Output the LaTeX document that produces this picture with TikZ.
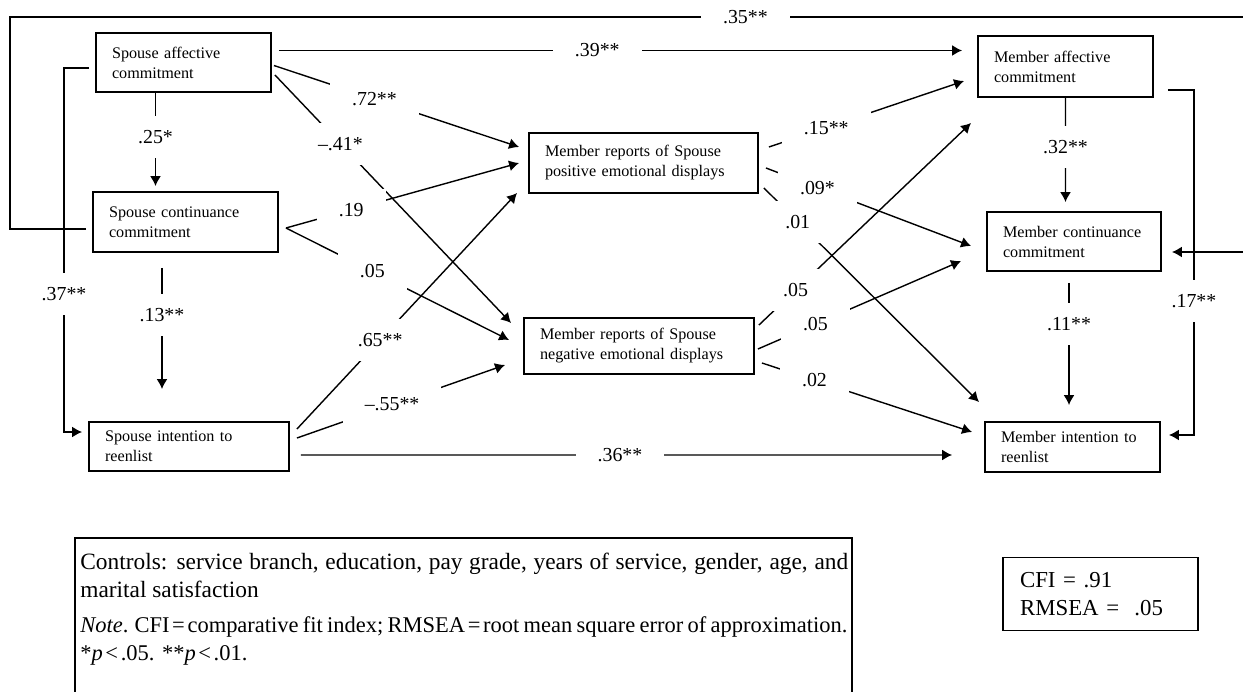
\documentclass[tikz,border=0pt]{standalone}
\usepackage{fontspec}
\setmainfont{Liberation Serif}
\usetikzlibrary{arrows.meta}
\tikzset{
  var/.style={draw, line width=1.1pt, inner xsep=0.32cm, inner ysep=2pt, align=left,
    font=\fontsize{9.2}{11.4}\selectfont},
  arr/.style={-{Latex[length=0.2cm,width=0.22cm]}, line width=0.8pt},
  lbl/.style={fill=white, inner xsep=0.44cm, inner ysep=1pt, minimum height=0.84cm,
    font=\fontsize{11.3}{13}\selectfont},
  note/.style={align=justify, text width=15.36cm, inner sep=0.06cm, font=\fontsize{12.8}{15.8}\selectfont}
}
\newcommand{\tighteq}{\kern1.5pt=\kern1.5pt}
\newcommand{\tightlt}{\kern1.5pt<\kern1.5pt}
\begin{document}
\begin{tikzpicture}[x=0.02cm, y=-0.02cm]
\useasboundingbox (0,0) rectangle (1243,692);

% spouse variables
\node[var, text width=2.86cm, minimum height=1.18cm] (SAC) at (183.5,62.5) {Spouse affective\\commitment};
\node[var, text width=3.06cm, minimum height=1.2cm] (SCC) at (185.5,222) {Spouse continuance\\commitment};
\node[var, text width=3.36cm, minimum height=0.98cm] (SIR) at (189,446.5) {Spouse intention to\\reenlist};

% mediators
\node[var, text width=3.94cm, minimum height=1.2cm] (MRP) at (643.5,163) {Member reports of Spouse\\positive emotional displays};
\node[var, text width=3.96cm, minimum height=1.12cm] (MRN) at (639,346) {Member reports of Spouse\\negative emotional displays};

% member variables
\node[var, text width=2.86cm, minimum height=1.22cm] (MAC) at (1065.5,66.5) {Member affective\\commitment};
\node[var, text width=2.84cm, minimum height=1.18cm] (MCC) at (1074,241.5) {Member continuance\\commitment};
\node[var, text width=2.86cm, minimum height=1.0cm] (MIR) at (1072.5,447) {Member intention to\\reenlist};

% paths among spouse variables
\draw[arr] ([shift={(-28,0)}]SAC.south) -- node[lbl,pos=.47]{.25*} ([shift={(-30,-5)}]SCC.north);
\draw[arr] ([shift={(-23.5,15)}]SCC.south) -- node[lbl,pos=.39]{.13**} ([shift={(-27,-32)}]SIR.north);
\draw[arr] ([shift={(-6,5.5)}]SAC.west) -- ++(-25,0) |- node[lbl,pos=.31]{.37**} ([shift={(-6,-14.5)}]SIR.west);
\draw[arr] ([shift={(-6,7)}]SCC.west) -- ++(-76,0) -- ++(0,-212)
  -- node[lbl,pos=.579]{.35**} ++(1270,0) |- ([shift={(10,10.5)}]MCC.east);
\draw[arr] ([shift={(7,-12)}]SAC.east) -- node[lbl,pos=.466]{.39**} ([shift={(-15,-16)}]MAC.west);
\draw[arr] ([shift={(11,8.5)}]SIR.east) -- node[lbl,pos=.49]{.36**} ([shift={(-32,8)}]MIR.west);

% spouse to mediators
\draw[arr] ([shift={(2,3)}]SAC.east) -- node[lbl,pos=.41]{.72**} ([shift={(-9,-16)}]MRP.west);
\draw[arr] ([shift={(3,12.5)}]SAC.east) -- node[lbl,pos=.277]{--.41*} ([shift={(-12,-23)}]MRN.west);
\draw[arr] ([shift={(7,6)}]SCC.east) -- node[lbl,pos=.28]{.19} ([shift={(-9,0)}]MRP.west);
\draw[arr] ([shift={(7,6)}]SCC.east) -- node[lbl,pos=.387]{.05} ([shift={(-14,-6)}]MRN.west);
\draw[arr] ([shift={(7,-17.5)}]SIR.east) -- node[lbl,pos=.378]{.65**} ([shift={(-11,-1)}]MRP.south west);
\draw[arr] ([shift={(7,-8.5)}]SIR.east) -- node[lbl,pos=.457]{--.55**} ([shift={(-18,-10)}]MRN.south west);

% mediators to member
\draw[arr] ([shift={(10,-16)}]MRP.east) -- node[lbl,pos=.294]{.15**} ([shift={(-13,14.5)}]MAC.west);
\draw[arr] ([shift={(7,5)}]MRP.east) -- node[lbl,pos=.251]{.09*} ([shift={(-15,4.5)}]MCC.west);
\draw[arr] ([shift={(5,25)}]MRP.east) -- node[lbl,pos=.157]{.01} ([shift={(-5,-19)}]MIR.north west);
\draw[arr] ([shift={(4,-21)}]MRN.east) -- node[lbl,pos=.173]{.05} ([shift={(-6,25)}]MAC.south west);
\draw[arr] ([shift={(3,3)}]MRN.east) -- node[lbl,pos=.283]{.05} ([shift={(-25,19.5)}]MCC.west);
\draw[arr] ([shift={(7,17)}]MRN.east) -- node[lbl,pos=.25]{.02} ([shift={(-12,-15)}]MIR.west);

% paths among member variables
\draw[arr] (MAC.south) -- node[lbl,pos=.47]{.32**} ([shift={(-8.5,-9)}]MCC.north);
\draw[arr] ([shift={(-5,11)}]MCC.south) -- node[lbl,pos=.34]{.11**} ([shift={(-3.5,-16)}]MIR.north);
\draw[arr] ([shift={(14,23.5)}]MAC.east) -- ++(26,0) |- node[lbl,pos=.306]{.17**} ([shift={(8,-12)}]MIR.east);

% notes
\node[note, anchor=north west] (ctrl) at (77,550) {{\fontsize{13.3}{15.8}\selectfont Controls: service branch, education, pay grade, years of service, gender, age, and\linebreak marital satisfaction}\\[4pt]\mbox{\spaceskip=0.19em\relax\textit{Note}. CFI\tighteq comparative fit index; RMSEA\tighteq root mean square error of approximation.}\\{}*\textit{p}\tightlt.05. **\textit{p}\tightlt.01.};
\draw[line width=1.1pt] ([shift={(-2,-12)}]ctrl.north west) rectangle ++(777,190);
\node[var, text width=3.22cm, inner xsep=0.34cm, minimum height=1.46cm, font=\fontsize{13}{16.2}\selectfont] (fit) at (1100.5,594) {CFI = .91\\RMSEA =\ \ .05};
\end{tikzpicture}
\end{document}
